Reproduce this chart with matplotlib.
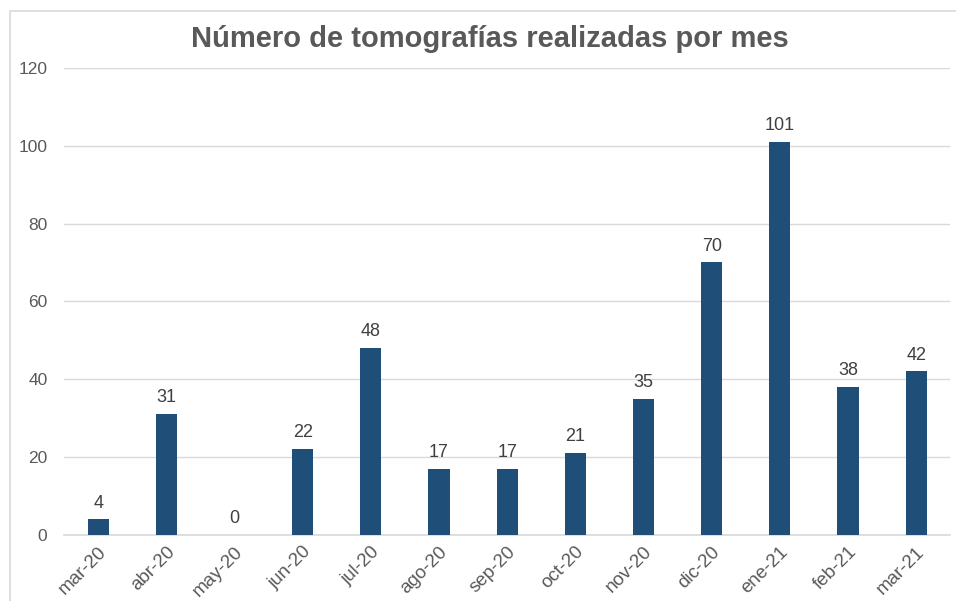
import matplotlib.pyplot as plt
from matplotlib.patches import Rectangle

# Data
meses = ["mar-20", "abr-20", "may-20", "jun-20", "jul-20", "ago-20", "sep-20",
         "oct-20", "nov-20", "dic-20", "ene-21", "feb-21", "mar-21"]
tomografias = [4, 31, 0, 22, 48, 17, 17, 21, 35, 70, 101, 38, 42]

plt.rcParams['font.family'] = ['Liberation Sans', 'DejaVu Sans']

fig = plt.figure(figsize=(9.56, 6.01), dpi=100)
ax = fig.add_axes([0.067, 0.110, 0.927, 0.777])

# outer chart frame
fig.patches.append(Rectangle((10 / 956, -0.01), 1.0, 1 - 11 / 601 + 0.01,
                             transform=fig.transFigure, fill=False,
                             edgecolor="#d9d9d9", linewidth=1.2))

x = range(len(meses))
bars = ax.bar(x, tomografias, width=0.31, color="#1F4E79", zorder=3)

for xi, v in zip(x, tomografias):
    ax.text(xi, v + 2, str(v), ha="center", va="bottom", fontsize=13,
            color="#404040")

ax.set_xlim(-0.5, len(meses) - 0.5)
ax.set_ylim(0, 120)
ax.set_yticks(range(0, 121, 20))
ax.set_xticks(list(x))
ax.set_xticklabels(meses, rotation=45, ha="right", rotation_mode="anchor",
                   fontsize=13.5, color="#595959")
ax.tick_params(axis="y", labelsize=12.5, labelcolor="#595959", length=0, pad=12)
ax.tick_params(axis="x", length=0, pad=6)

ax.grid(axis="y", color="#d9d9d9", linewidth=1, zorder=0)
for s in ["top", "right", "left"]:
    ax.spines[s].set_visible(False)
ax.spines["bottom"].set_color("#d9d9d9")
ax.spines["bottom"].set_linewidth(1.2)

fig.text(0.512, 0.935, "Número de tomografías realizadas por mes", ha="center",
         va="center", fontsize=21, fontweight="bold", color="#595959")

fig.savefig("out.png", dpi=100)
